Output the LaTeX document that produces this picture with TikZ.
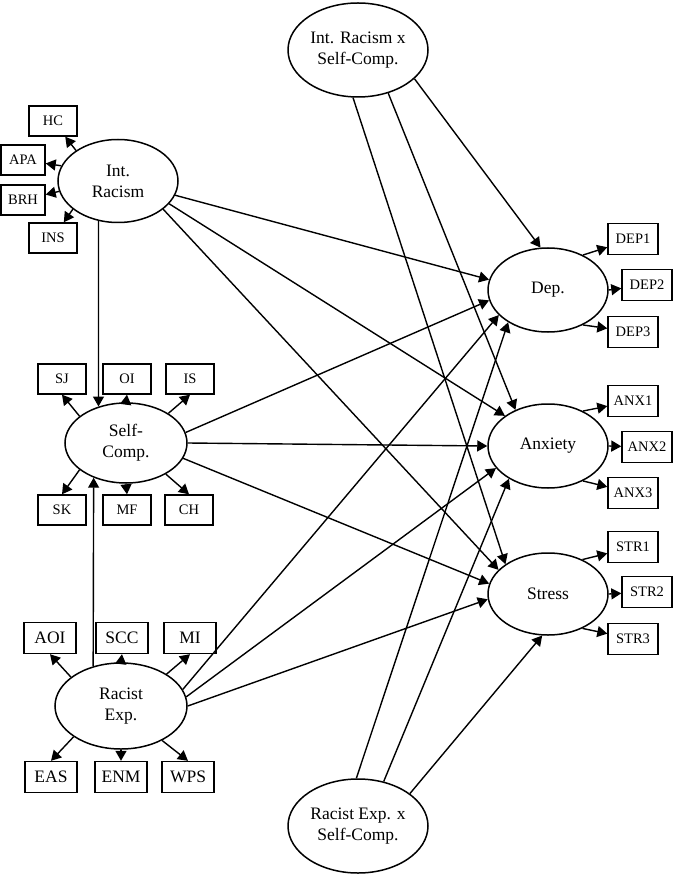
\documentclass[tikz,border=0pt]{standalone}
\usepackage{fontspec}
\setmainfont{Liberation Serif}
\usetikzlibrary{arrows.meta, shapes.geometric}

\begin{document}
\begin{tikzpicture}[
            x=1pt, y=-1pt,
            latent/.style={ellipse, draw, line width=1.5pt, inner sep=0pt,
                           minimum width=120pt, minimum height=83pt,
                           align=center, font=\fontsize{17.5}{21}\selectfont},
            ind/.style={rectangle, draw, line width=1.4pt, inner sep=0pt,
                        minimum width=48pt, minimum height=30pt,
                        font=\fontsize{14.5}{17}\selectfont},
            bigind/.style={ind, minimum width=52pt, minimum height=31pt,
                           font=\fontsize{17.5}{21}\selectfont},
            arrow/.style={-{Triangle[length=10pt, width=11pt]}, line width=1.4pt},
        ]
            \useasboundingbox (0,0) rectangle (672,874);

            % latent variables
            \node[latent] (ir) at (118,181) {Int.\\Racism};
            \node[latent, minimum width=122pt, minimum height=80pt] (sc) at (126,443) {Self-\\Comp.};
            \node[latent, minimum width=132pt, minimum height=86pt] (re) at (121,706) {Racist\\Exp.};
            \node[latent, minimum width=140pt, minimum height=94pt] (irsc) at (358,50) {Int. Racism x\\Self-Comp.};
            \node[latent, minimum width=140pt, minimum height=94pt] (resc) at (358,826) {Racist Exp. x\\Self-Comp.};
            \node[latent, minimum height=84pt] (dep) at (548,290) {Dep.};
            \node[latent, minimum height=84pt] (anx) at (548,446) {Anxiety};
            \node[latent, minimum height=82pt] (str) at (548,594) {Stress};

            % indicators
            \node[ind] (HC) at (53,121) {HC};
            \node[ind, minimum width=44pt] (APA) at (23,160) {APA};
            \node[ind, minimum width=44pt] (BRH) at (23,200) {BRH};
            \node[ind] (INS) at (53,238) {INS};

            \foreach \name/\pos in {SJ/{62,379}, OI/{127,379}, IS/{190,379},
                                    SK/{62,510}, MF/{127,510}, CH/{189,510}}
                \node[ind] (\name) at (\pos) {\name};

            \foreach \name/\pos in {AOI/{50,638}, SCC/{122,638}, MI/{190,638},
                                    EAS/{51,777}, ENM/{121,777}, WPS/{188,777}}
                \node[bigind] (\name) at (\pos) {\name};

            \foreach \name/\pos in {DEP1/{633,239}, DEP2/{647,285}, DEP3/{633,332},
                                    ANX1/{633,401}, ANX2/{647,447}, ANX3/{633,493},
                                    STR1/{633,547}, STR2/{647,592}, STR3/{633,639}}
                \node[ind, minimum width=50pt, minimum height=31pt] (\name) at (\pos) {\name};

            % measurement arrows
            \foreach \a/\b in {144/HC, 165/APA, 190/BRH, 212/INS}
                \draw[arrow] (ir.\a) -- (\b);
            \foreach \a/\b in {150/SJ, 90/OI, 35/IS}
                \draw[arrow] (sc.\a) -- (\b.south);
            \foreach \a/\b in {210/SK, 270/MF, -38/CH}
                \draw[arrow] (sc.\a) -- (\b.north);
            \foreach \a/\b in {150/AOI, 90/SCC, 35/MI}
                \draw[arrow] (re.\a) -- (\b.south);
            \foreach \a/\b in {213/EAS, 270/ENM, -40/WPS}
                \draw[arrow] (re.\a) -- (\b.north);
            \foreach \f/\m in {dep/DEP, anx/ANX, str/STR} {
                \draw[arrow] (\f.45) -- (\m1);
                \draw[arrow] (\f.east) -- (\m2);
                \draw[arrow] (\f.-45) -- (\m3);
            }

            % structural paths
            \draw[arrow] (ir.244) -- (sc.127);
            \draw[arrow] (re.125) -- (sc.227);
            \draw[arrow] (ir.-14) -- (dep.170);
            \draw[arrow] (ir.-24) -- (anx.145);
            \draw[arrow] (ir.-32) -- (str.154);
            \draw[arrow] (sc.10) -- (dep.190);
            \draw[arrow] (sc.0) -- (anx.180);
            \draw[arrow] (sc.-15) -- (str.170);
            \draw[arrow] (re.15) -- (dep.207);
            \draw[arrow] (re.8) -- (anx.203);
            \draw[arrow] (re.0) -- (str.185);
            \draw[arrow] (irsc.333) -- (dep.100);
            \draw[arrow] (irsc.305) -- (anx.132);
            \draw[arrow] (irsc.264) -- (str.145);
            \draw[arrow] (resc.92) -- (dep.219);
            \draw[arrow] (resc.60) -- (anx.220);
            \draw[arrow] (resc.32) -- (str.262);
        \end{tikzpicture}
\end{document}
